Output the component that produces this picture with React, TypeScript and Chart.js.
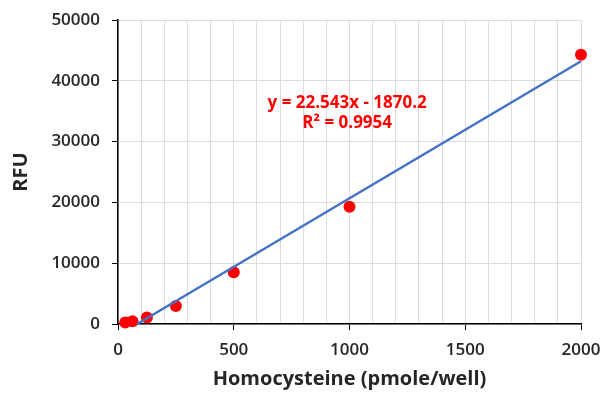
import React, { useEffect, useRef } from "react";
import { Chart, registerables } from "chart.js";

Chart.register(...registerables);

const concentrations = [31.25, 62.5, 125, 250, 500, 1000, 2000];
const rfuValues = [250, 450, 1050, 2950, 8500, 19300, 44300];

const trendX = [83, 2000];
const trendY = [0, 43216];

const equationText = "y = 22.543x - 1870.2";
const rSquaredText = "R² = 0.9954";
const equationPos = { x: 990, y1: 36300, y2: 33100 };

const xTitle = "Homocysteine (pmole/well)";
const yTitle = "RFU";

const FONT = "'Open Sans', 'DejaVu Sans', sans-serif";

export default function App() {
  const ref = useRef<HTMLCanvasElement | null>(null);

  useEffect(() => {
    if (!ref.current) return;
    const eqPlugin = {
      id: "eqText",
      afterDatasetsDraw(chart: any) {
        const { ctx, scales } = chart;
        const px = scales.x.getPixelForValue(equationPos.x);
        const py1 = scales.y.getPixelForValue(equationPos.y1);
        const py2 = scales.y.getPixelForValue(equationPos.y2);
        ctx.save();
        ctx.fillStyle = "#FF0000";
        ctx.font = `bold 17px ${FONT}`;
        ctx.textAlign = "center";
        ctx.textBaseline = "middle";
        ctx.fillText(equationText, px, py1);
        ctx.fillText(rSquaredText, px, py2);
        ctx.restore();
      },
    };

    const chart = new Chart(ref.current, {
      type: "scatter",
      data: {
        datasets: [
          {
            type: "line",
            label: "Trend",
            data: trendX.map((x, i) => ({ x, y: trendY[i] })),
            borderColor: "#4472C4",
            borderWidth: 2.5,
            pointRadius: 0,
            showLine: true,
            fill: false,
            order: 0,
            clip: false,
          } as any,
          {
            label: "RFU",
            data: concentrations.map((x, i) => ({ x, y: rfuValues[i] })),
            backgroundColor: "#FF0000",
            borderColor: "#FF0000",
            pointRadius: 6,
            pointBorderWidth: 0,
            order: 1,
            clip: false,
          } as any,
        ],
      },
      options: {
        responsive: false,
        animation: false,
        devicePixelRatio: 1,
        layout: { padding: { left: 0, right: 21, top: 20, bottom: 0 } },
        plugins: {
          legend: { display: false },
          tooltip: { enabled: false },
        },
        scales: {
          x: {
            type: "linear",
            min: 0,
            max: 2000,
            afterFit: (s: any) => {
              s.height = 69;
              s.paddingLeft = 0;
              s.paddingRight = 0;
            },
            ticks: {
              stepSize: 100,
              autoSkip: false,
              maxRotation: 0,
              padding: 10,
              color: "#262626",
              font: { family: FONT, size: 17, weight: "600" },
              callback: (v: any) => (Number(v) % 500 === 0 ? String(v) : ""),
            },
            grid: {
              color: "#dcdcdc",
              lineWidth: 1,
              tickLength: 6,
              tickColor: (ctx: any) =>
                ctx.tick && ctx.tick.value % 500 === 0 ? "#000" : "rgba(0,0,0,0)",
            },
            border: { color: "#000", width: 1.5 },
            title: {
              display: true,
              text: xTitle,
              color: "#262626",
              font: { family: FONT, size: 20, weight: "bold", lineHeight: 1.2 },
              padding: { top: 0, bottom: 2 },
            },
          },
          y: {
            type: "linear",
            min: 0,
            max: 50000,
            afterFit: (s: any) => {
              s.width = 118;
              s.paddingTop = 0;
              s.paddingBottom = 0;
            },
            ticks: {
              stepSize: 10000,
              padding: 12,
              color: "#262626",
              font: { family: FONT, size: 17, weight: "600" },
              callback: (v: any) => String(v),
            },
            grid: {
              color: "#dcdcdc",
              lineWidth: 1,
              tickLength: 6,
              tickColor: "#000",
            },
            border: { color: "#000", width: 1.5 },
            title: {
              display: true,
              text: yTitle,
              color: "#262626",
              font: { family: FONT, size: 20, weight: "bold", lineHeight: 1.2 },
              padding: { top: 9, bottom: 0 },
            },
          },
        },
      },
      plugins: [eqPlugin],
    });
    return () => chart.destroy();
  }, []);

  return (
    <div style={{ position: "fixed", left: 0, top: 0, width: 602, height: 393, background: "#fff" }}>
      <canvas ref={ref} width={602} height={393} style={{ display: "block" }} />
    </div>
  );
}
